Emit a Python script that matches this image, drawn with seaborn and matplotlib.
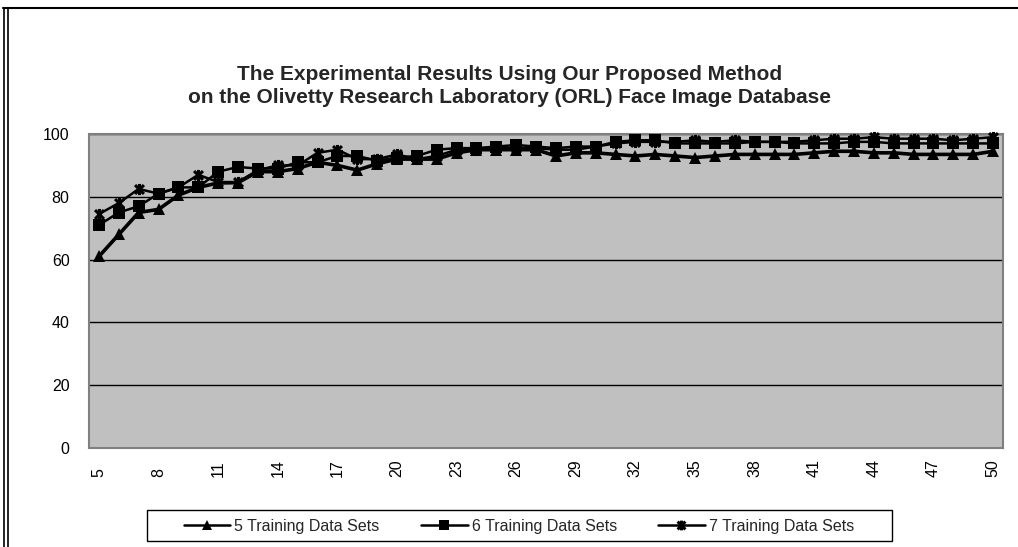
import matplotlib
matplotlib.use("Agg")
import matplotlib.pyplot as plt
from matplotlib.lines import Line2D
from matplotlib.patches import Rectangle
from matplotlib.path import Path
import seaborn as sns
import pandas as pd

# Number of images per subject used for recognition
image_counts = list(range(5, 51))

# Recognition rate (%) for each number of training sets
rate_5_sets = [61, 68, 75, 76, 80.5, 83, 84.4, 84.5, 88, 88, 89, 91, 90, 88.5, 90.5,
               92, 92, 92, 94, 95, 95, 95, 95, 93, 94, 94, 93.5, 93, 93.5, 93,
               92.5, 93, 93.5, 93.5, 93.5, 93.5, 94, 94.5, 94.5, 94, 94, 93.5, 93.5,
               93.5, 93.5, 94.5]
rate_6_sets = [71, 75, 77, 81, 83, 83, 88, 89.5, 89, 89, 91, 91, 93, 93, 91.5,
               92.5, 93, 95, 95.5, 95.5, 96, 96.5, 96, 95.5, 96, 96, 97.5, 98, 98,
               97, 97, 97, 97, 97.5, 97.5, 97, 97, 97, 97.5, 97.5, 97, 97, 97,
               97, 97, 97]
rate_7_sets = [74.5, 78, 82.5, 81, 83, 87, 84.7, 84.7, 88.5, 90, 90, 94, 95, 92, 92,
               93.5, 92, 93, 95, 95, 95.5, 95.5, 95.5, 95, 95, 96, 97, 97.5, 97.5,
               97.5, 98, 97.5, 98, 97.5, 97.5, 97.5, 98, 98.5, 98.5, 99, 98.5, 98.5,
               98.5, 98, 98.5, 99]

series_labels = ["5 Training Data Sets", "6 Training Data Sets", "7 Training Data Sets"]
y_ticks = [0, 20, 40, 60, 80, 100]
x_ticks = list(range(5, 51, 3))
title_text = ("The Experimental Results Using Our Proposed Method\n"
              "on the Olivetty Research Laboratory (ORL) Face Image Database")

sns.set_style("white")
plt.rcParams["font.family"] = ["Liberation Sans", "DejaVu Sans"]

# asterisk-style marker: an X crossed by a vertical bar
star_path = Path(
    [(-1, -1), (1, 1), (-1, 1), (1, -1), (0, -1.25), (0, 1.25)],
    [Path.MOVETO, Path.LINETO, Path.MOVETO, Path.LINETO, Path.MOVETO, Path.LINETO],
)

W, H = 1018, 547
fig = plt.figure(figsize=(W / 100, H / 100), dpi=100)
ax = fig.add_axes([89 / W, 1 - 448 / H, (1003 - 89) / W, (448 - 134) / H])
ax.set_facecolor("#C0C0C0")

styles = [
    dict(marker="^", markersize=8.5, lw=2.6, mew=0),
    dict(marker="s", markersize=8, lw=1.8, mew=0),
    dict(marker=star_path, markersize=8, lw=1.8, mew=2.2),
]
for vals, label, st in zip([rate_5_sets, rate_6_sets, rate_7_sets], series_labels, styles):
    df = pd.DataFrame({"n": image_counts, "rate": vals})
    sns.lineplot(data=df, x="n", y="rate", ax=ax, color="black",
                 marker=st["marker"], markersize=st["markersize"],
                 linewidth=st["lw"], markeredgewidth=st["mew"],
                 markeredgecolor="black", markerfacecolor="black",
                 label=label, clip_on=False, zorder=3)

ax.set_xlim(4.5, 50.5)
ax.set_ylim(0, 100)
ax.set_yticks(y_ticks)
ax.set_xticks(x_ticks)
ax.set_xticklabels([str(t) for t in x_ticks], rotation=90, fontsize=11.5,
                   va="bottom")
ax.set_yticklabels([str(t) for t in y_ticks], fontsize=11.5)
ax.tick_params(axis="both", length=0, colors="black")
ax.tick_params(axis="y", pad=14)
ax.tick_params(axis="x", pad=21)
ax.set_xlabel("")
ax.set_ylabel("")
ax.set_axisbelow(True)
ax.yaxis.grid(True, color="black", linewidth=1.0)
ax.xaxis.grid(False)
for s in ax.spines.values():
    s.set_visible(True)
    s.set_color("#808080")
    s.set_linewidth(1.5)

fig.text(510 / W, 1 - 86 / H, title_text, ha="center", va="center",
         fontsize=15, fontweight="bold", linespacing=1.33,
         family=["Liberation Sans Narrow", "Liberation Sans", "DejaVu Sans"])

# legend entries, with the box drawn as a separate rectangle
leg = ax.legend(loc="center", ncol=3, frameon=False,
                fontsize=11.5, handlelength=2.9, columnspacing=2.6, handletextpad=0.25,
                bbox_to_anchor=(519 / W, 1 - 526 / H),
                bbox_transform=fig.transFigure, borderaxespad=0)
for h in leg.legend_handles:
    h.set_linewidth(1.8)
    h.set_markersize(7)
fig.add_artist(Rectangle((147 / W, 1 - 541 / H), (892 - 147) / W, 31 / H,
                         transform=fig.transFigure, fill=False,
                         edgecolor="black", linewidth=1.0))

# page border: top rule and double rule on the left
fig.add_artist(Line2D([3 / W, 1], [1 - 8 / H, 1 - 8 / H], color="black", lw=1.5,
                      transform=fig.transFigure))
for xp in (4, 8):
    fig.add_artist(Line2D([xp / W, xp / W], [0, 1 - 8 / H], color="black", lw=1.2,
                          transform=fig.transFigure))

fig.savefig("out.png", dpi=100, facecolor="white")
